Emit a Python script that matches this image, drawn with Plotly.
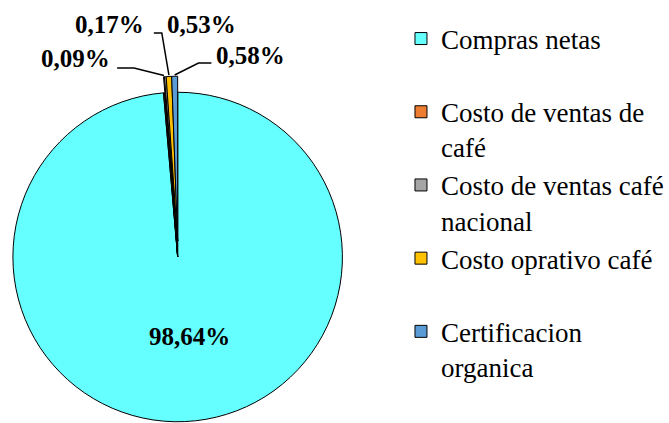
import math
import plotly.graph_objects as go

# Data
categories = [
    "Compras netas<br> ",
    "Costo de ventas de<br>café",
    "Costo de ventas café<br>nacional",
    "Costo oprativo café<br> ",
    "Certificacion<br>organica",
]
values = [98.64, 0.09, 0.17, 0.53, 0.58]
colors = ["#66FFFF", "#ED7D31", "#A5A5A5", "#FFC000", "#5B9BD5"]

W, H = 669, 423
FONT = "Liberation Serif, Times New Roman, serif"

# pie geometry in pixels
cx, cy, r = 179, 257, 166
pull_px = 16  # small slices pulled out (upwards)


def fmt(v):
    return f"{v:.2f}".replace(".", ",") + "%"


def dom_x(c):
    return [(c - r) / W, (c + r) / W]


def dom_y(c):
    return [max(0, 1 - (c + r) / H), 1 - (c - r) / H]


def px(x, y):
    return x / W, 1 - y / H


fig = go.Figure()

# main pie
fig.add_trace(go.Pie(
    labels=categories,
    values=values,
    sort=False,
    direction="clockwise",
    rotation=0,
    marker=dict(colors=colors, line=dict(color="black", width=1)),
    textinfo="none",
    domain=dict(x=dom_x(cx), y=dom_y(cy)),
    showlegend=True,
))

# same pie shifted up: shows the pulled-out small slices
fig.add_trace(go.Pie(
    labels=categories,
    values=values,
    sort=False,
    direction="clockwise",
    rotation=0,
    marker=dict(colors=["rgba(0,0,0,0)"] + colors[1:],
                line=dict(color="black", width=[0, 1, 1, 1, 1])),
    textinfo="none",
    hoverinfo="skip",
    domain=dict(x=dom_x(cx), y=dom_y(cy - pull_px)),
    showlegend=False,
))

# data labels + leader lines
total = sum(values)
cum = 0
tips = []
for v in values:
    mid = (cum + v / 2) / total * 2 * math.pi
    tips.append((cx + r * math.sin(mid), cy - pull_px - r * math.cos(mid)))
    cum += v

label_pos = {0: (191, 336), 1: (76, 59), 2: (110, 25), 3: (203, 25), 4: (252, 56)}
elbows = {
    1: [(118, 68), (135, 68)],
    3: [(155, 33), (163, 33)],
    4: [(213, 63), (200, 63)],
}

for i, (lx, ly) in label_pos.items():
    x, y = px(lx, ly)
    fig.add_annotation(x=x, y=y, xref="paper", yref="paper",
                       xanchor="center", yanchor="middle",
                       text="<b>" + fmt(values[i]) + "</b>", showarrow=False,
                       font=dict(family=FONT, size=25, color="black"))

for i, pts in elbows.items():
    pts = pts + [tips[i]]
    path = ""
    for k, (a, b) in enumerate(pts):
        x, y = px(a, b)
        path += ("M" if k == 0 else "L") + f"{x},{y} "
    fig.add_shape(type="path", path=path, xref="paper", yref="paper",
                  line=dict(color="black", width=1.5))

fig.update_layout(
    width=W,
    height=H,
    margin=dict(l=0, r=0, t=0, b=0),
    paper_bgcolor="white",
    plot_bgcolor="white",
    legend=dict(
        x=404 / W, xanchor="left",
        y=1 - 14.5 / H, yanchor="top",
        valign="top",
        font=dict(family=FONT, size=27, color="black"),
        bgcolor="rgba(0,0,0,0)",
    ),
)

fig.write_html("out.html", config={"displayModeBar": False},
               post_script="document.body.style.margin='0';")
